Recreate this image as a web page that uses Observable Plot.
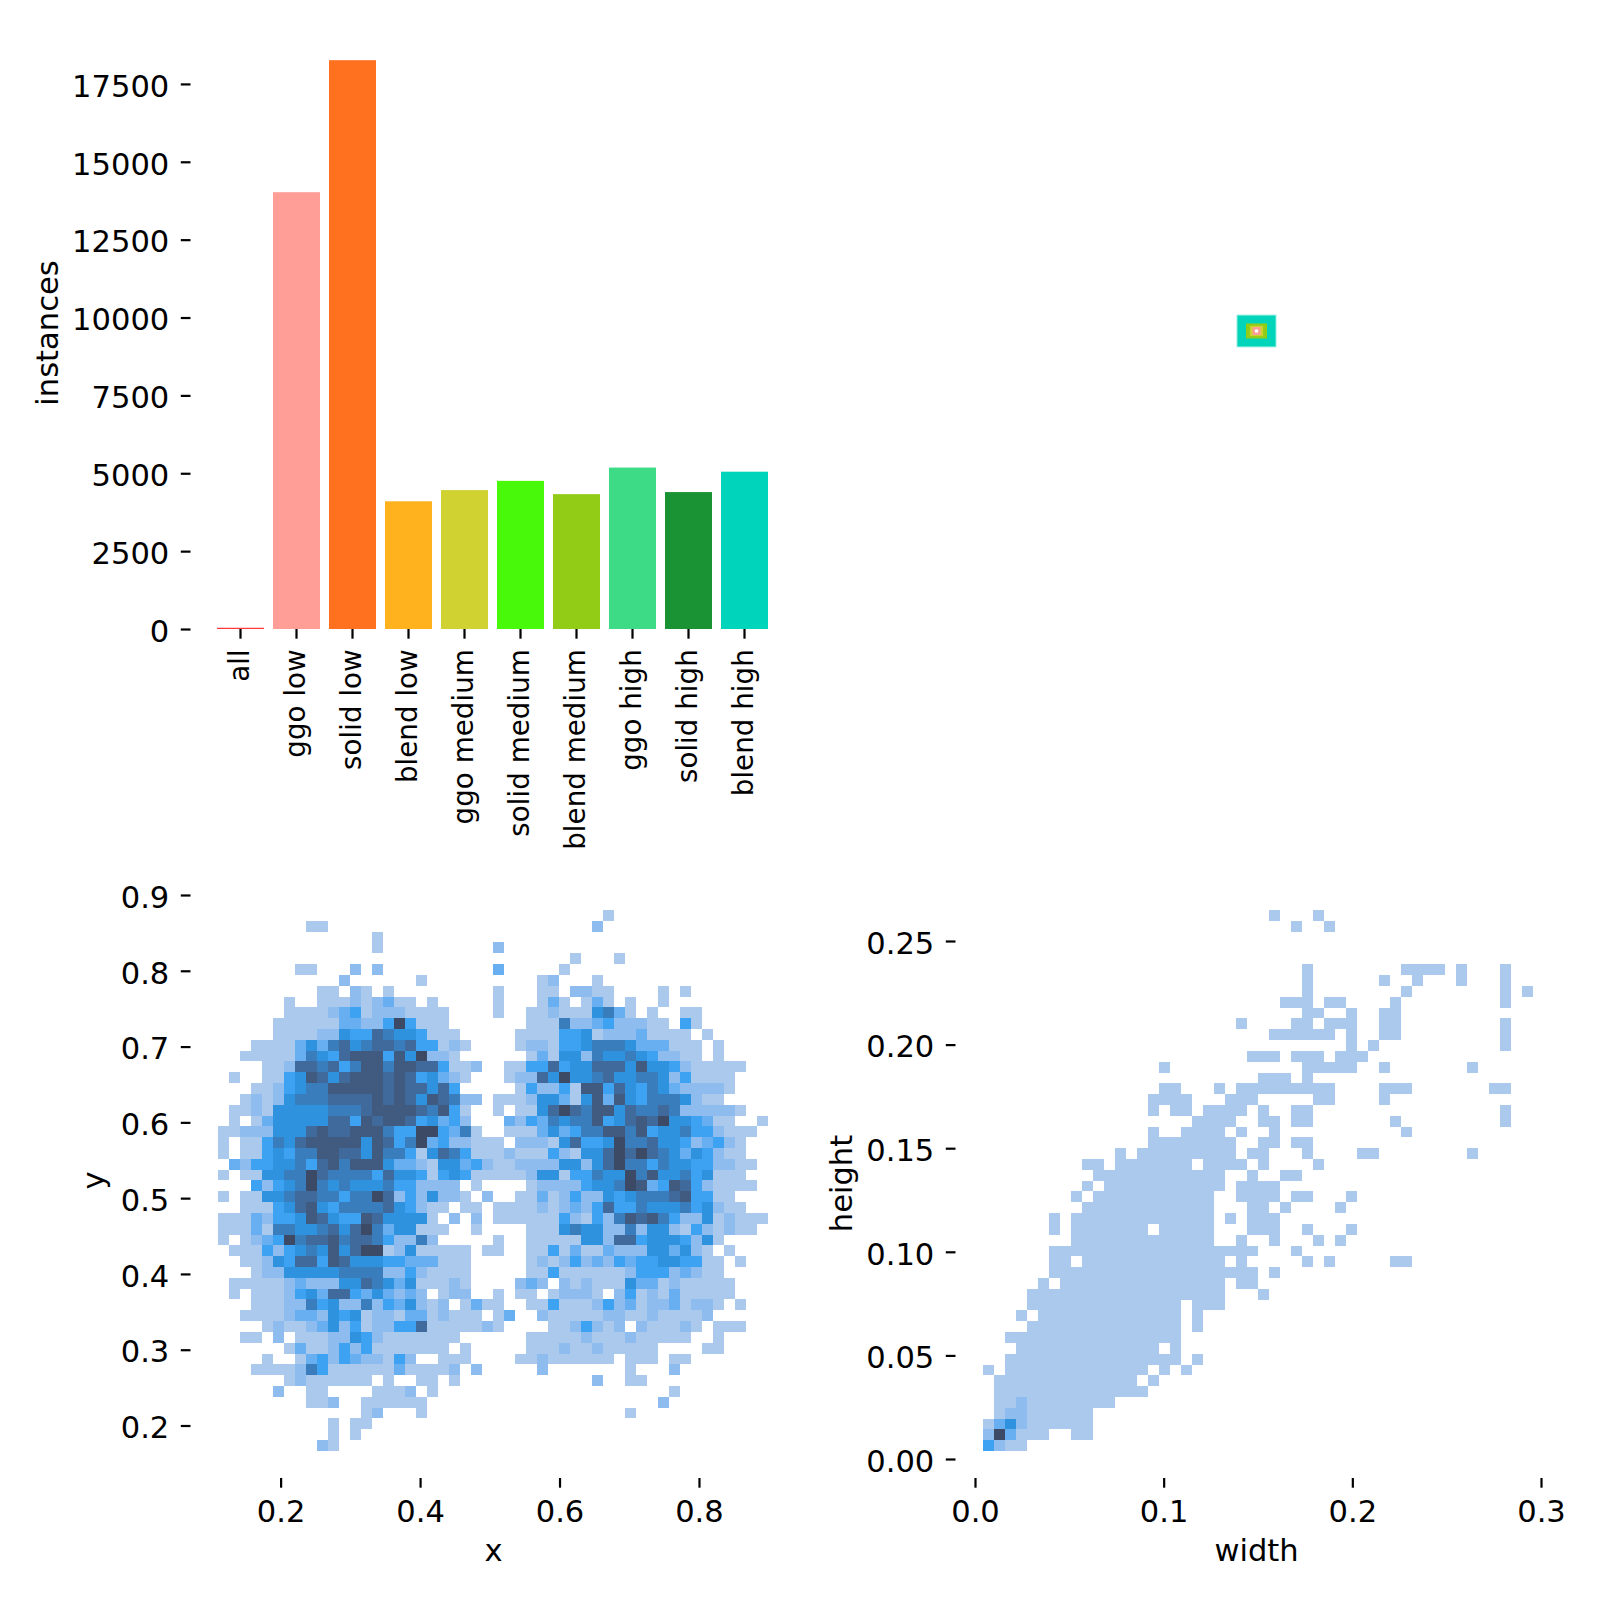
<!DOCTYPE html>
<html>
<head>
<meta charset="utf-8">
<style>
html,body{margin:0;padding:0;background:#fff;width:1600px;height:1600px;overflow:hidden}
#root{position:relative;width:1600px;height:1600px}
#root svg{position:absolute;background:#fff}
</style>
<script src="https://cdn.jsdelivr.net/npm/d3@7"></script>
<script src="https://cdn.jsdelivr.net/npm/@observablehq/plot@0.6"></script>
</head>
<body>
<div id="root"></div>
<script>
// Instances per class
const categories = ["all","ggo low","solid low","blend low","ggo medium","solid medium","blend medium","ggo high","solid high","blend high"];
const instances = [40,14024,18262,4100,4460,4756,4330,5183,4396,5050];
const barColors = ["#FF3838","#FF9D97","#FF701F","#FFB21D","#CFD231","#48F90A","#92CC17","#3DDB86","#1A9334","#00D4BB"];
const instanceTicks = [0,2500,5000,7500,10000,12500,15000,17500];

// Overlaid label boxes (centred in a 2000 x 2000 image)
const boxWidths = [129,66,40,23,7];
const boxHeights = [107,47,31,23,7];
const boxColors = ["#00D4BB","#92CC17","#CFD231","#FF9D97","#FFFFFF"];
const boxEdges = ["#9BEDE3","#92CC17","#CFD231","#FF9D97","#FFFFFF"];

// Histogram density classes, 1 (few) to 9 (many)
const levels = [1,2,3,4,5,6,7,8,9];
const levelColors = ["#abc8ed","#8fbcef","#68aff2","#3ea2f3","#2e92de","#3a7dbd","#416a9c","#405a80","#3c4a66"];

// x / y histogram: one entry per row from the top, "startColumn:classes"
const xyRows = [
"35:1",
"8:11 34:2",
"14:1",
"14:1 25:2",
"32:1 36:1",
"7:11 12:2 14:2 25:3 31:1",
"11:2 18:1 29:12 34:1",
"9:11 12:21 15:1 25:1 29:11 32:22 34:11 40:1 42:1",
"6:1 9:111212311 19:1 25:1 29:131 33:131 37:1 40:1",
"6:111123412221111 25:1 28:1121115631 39:1 42:11",
"5:1111113322494111 28:1116223422211 42:41",
"5:11112254476554111 27:1111445122231111 44:1",
"3:11113536756776744121 27:12214456665333111 45:1",
"2:11111365478884859221 28:1315526556542211 45:1",
"4:11277674688688774112 26:1144745577758554211111",
"1:1 4:1145875788878745321 26:122759556755665241111",
"3:1124566888887877574 27:14224188475465322221",
"2:1212566677778787587622 25:111255315838546665211",
"1:1121555556667888876841 25:1 27:115797688576676222221",
"1:1 3:13555557748788745342 26:324365668457879554311 49:1",
"0:112225557877888644994361 26:11135346688684556442111",
"0:1 2:11465788888587469342211 25:1 27:222157445966755423421",
"0:1 2:11454668877586641576411 25:12111421557979765354211",
"1:324455647868885332155342 25:112222552579664655442211",
"0:1 2:11556697666647554145411 25:11125514465596855645111",
"3:4245696565556442222 23:1 28:122224556983487421111",
"0:1 2:115567766466972425221 24:2 27:11312422545666784411",
"2:1114578546666754211 22:11 25:11112123247446555645211",
"0:11132445875448755551 21:2 23:2 25:1111114214268786422512111",
"0:111316655675796355111 23:1 28:111565522625521421211",
"0:1 2:123496778677642262 25:1 28:111115527745554251",
"1:1114245658579912511111 24:1 25:1 28:11413113222553521 46:1",
"2:112547748755544333111 28:121242324344554411 47:1",
"3:12255555666622421111 28:114111111244423211",
"1:1111123222557653511121 27:232 31:2121115331211111",
"1:1 3:1112453774353232 20:122 25:1 27:11 30:12221 36:24121311111",
"3:111226452262435212 22:131 25:1 28:114111242312231221 47:1",
"2:1111233254512213312111 25:13 29:2111112211211112",
"4:121123524122447111112 25:1 30:1124212 38:211121 45:111",
"2:11 5:2 7:111225421111111 28:111112111211111 45:1",
"6:131124241111111 22:1 28:111211211111 44:11",
"4:1 7:13424322142 20:111 27:112111111 37:111 41:11",
"3:1111264111111311112 23:2 29:2 37:1 41:2",
"6:12111111 15:1 18:11 21:1 34:2 37:11",
"5:2 8:11 14:1112 19:1 41:1",
"8:112 13:111111 40:2",
"13:12 18:1 37:1",
"10:1 12:11",
"10:1 12:1",
"9:21"
];

// width / height histogram: occupied columns per row from the top
const whRows = [
"26 30","28 31","","","",
"29 38-41 43 47",
"29 36 39 43 47",
"29 38 47 49",
"27-29 31-32 37 47",
"29-30 33 36-37",
"23 28-29 31-33 36-37 47",
"26-31 33 36-37 47",
"33 35 47",
"24-26 28-30 32-34",
"16 29-33 36 44",
"25-27 29",
"16-17 21 23-31 36-38 46-47",
"15-18 22-24 30-31 36",
"15 17-18 20-23 25 28-29 47",
"19-22 25-26 28-29 37 47",
"15 18-21 23 26 38",
"15-22 25-26 28-29",
"12 14-22 24-25 29 34-35 44",
"9-10 12-18 20-23 25 30",
"10-21 24 27-28",
"9 11-21 23-26",
"8 10-20 23-26 28-29 33",
"9-20 24-25 27 32",
"6 8-20 22 24-26",
"6 8-14 16-20 24-26 29 33",
"8-20 23 26 30 32",
"6-24 28",
"6-7 9-21 23 29 31 37-38",
"6-24 26",
"5 7-21 23-24",
"4-21 25",
"4-17 19-21",
"3 5-17 19",
"4-17 19",
"2-17",
"3-15 17",
"2-17 19",
"0 2-14 16 18",
"1-13 15",
"1-14",
"1-11",
"1-9",
"0-9",
"0-5 8-9",
"0-3"
];
// Denser cells of that histogram: [row, column, class]
const whDense = [[45,3,2],[46,2,2],[46,3,2],[47,1,3],[47,2,5],[47,3,2],[48,0,2],[48,1,9],[48,2,3],[49,0,4],[49,1,2]];

// Histogram extents
const xyBins = {x0:0.1102, dx:0.015775, y0:0.8802, dy:0.014274};
const whBins = {x0:0.00424, dx:0.00583, y0:0.26483, dy:0.00522};

function xyCells(){
  const out=[];
  xyRows.forEach((row,r)=>{
    row.split(" ").filter(Boolean).forEach(tok=>{
      const [s,digits]=tok.split(":");
      [...digits].forEach((ch,i)=>out.push(cell(xyBins,r,+s+i,+ch)));
    });
  });
  return out;
}
function whCells(){
  const map=new Map();
  whRows.forEach((row,r)=>{
    row.split(" ").filter(Boolean).forEach(tok=>{
      const [a,b]=tok.split("-").map(Number);
      for(let c=a;c<=(b===undefined?a:b);c++) map.set(r+"_"+c,cell(whBins,r,c,1));
    });
  });
  whDense.forEach(([r,c,l])=>map.set(r+"_"+c,cell(whBins,r,c,l)));
  return [...map.values()];
}
function cell(b,r,c,level){
  return {x1:b.x0+c*b.dx,x2:b.x0+(c+1)*b.dx,y1:b.y0-r*b.dy,y2:b.y0-(r+1)*b.dy,level};
}

const font = {fontFamily:"'DejaVu Sans',sans-serif",fontSize:"30.56px",background:"#fff",color:"#000"};
const colorScale = {type:"ordinal",domain:levels,range:levelColors};
const root = document.getElementById("root");
function place(svg,left,top){svg.style.left=left+"px";svg.style.top=top+"px";root.appendChild(svg);}

// Tick rules and tick labels are separate so the labels can sit on the text's visual centre
function yAxis(options,label,labelOffset){
  return [
    Plot.axisY({...options,tickSize:9.7,strokeWidth:2.2,text:null,label:null}),
    Plot.axisY({...options,tickSize:0,tickPadding:21.7,dy:2.5,label:null}),
    Plot.axisY({...options,tickSize:0,text:null,label,labelAnchor:"center",labelArrow:"none",labelOffset})
  ];
}
function xAxis(options,label,labelOffset){
  return [
    Plot.axisX({...options,tickSize:9.7,strokeWidth:2.2,text:null,label:null}),
    Plot.axisX({...options,tickSize:0,tickPadding:19.4,dy:2,label:null}),
    Plot.axisX({...options,tickSize:0,text:null,label,labelAnchor:"center",labelArrow:"none",labelOffset})
  ];
}

// Instances bars
place(Plot.plot({
  width:800,height:860,style:font,
  marginLeft:190.5,marginRight:4.5,marginTop:36,marginBottom:231,
  x:{type:"band",domain:categories,range:[213,773],paddingInner:0.16,paddingOuter:0.08},
  y:{domain:[0,18300],range:[629,59]},
  color:{type:"ordinal",domain:categories,range:barColors},
  marks:[
    Plot.barY(categories.map((c,i)=>({c,v:instances[i]})),{x:"c",y:"v",fill:"c"}),
    yAxis({ticks:instanceTicks,tickFormat:"d"},"instances",155),
    Plot.axisX({tickSize:9.7,strokeWidth:2.2,tickPadding:10,tickRotate:-90,fontSize:27.78,label:null,dx:-0.5})
  ]
}),0,0);

// Overlaid boxes
place(Plot.plot({
  width:800,height:860,style:font,
  margin:0,
  x:{axis:null,domain:[0,2000],range:[154,759]},
  y:{axis:null,domain:[0,2000],range:[629,33]},
  marks:[
    Plot.rect(boxWidths.map((w,i)=>({w,h:boxHeights[i],color:boxColors[i],edge:boxEdges[i]})),{
      x1:d=>1000-d.w/2,x2:d=>1000+d.w/2,y1:d=>1000-d.h/2,y2:d=>1000+d.h/2,
      fill:d=>d.color,stroke:d=>d.edge,strokeWidth:1
    })
  ]
}),800,0);

// x / y histogram
place(Plot.plot({
  width:800,height:740,style:font,
  marginLeft:190.5,marginRight:4.5,marginTop:22,marginBottom:122,
  x:{domain:[0.1,0.9],range:[210.9,768.7]},
  y:{domain:[0.2,0.9],range:[565.5,35]},
  color:colorScale,
  marks:[
    Plot.rect(xyCells(),{x1:"x1",x2:"x2",y1:"y1",y2:"y2",fill:"level",shapeRendering:"crispEdges"}),
    xAxis({ticks:[0.2,0.4,0.6,0.8],tickFormat:".1f"},"x",82),
    yAxis({ticks:[0.2,0.3,0.4,0.5,0.6,0.7,0.8,0.9],tickFormat:".1f"},"y",109)
  ]
}),0,860);

// width / height histogram
place(Plot.plot({
  width:800,height:740,style:font,
  marginLeft:155.5,marginRight:43.5,marginTop:28,marginBottom:122,
  x:{domain:[0,0.3],range:[175,741]},
  y:{domain:[0,0.25],range:[599,81]},
  color:colorScale,
  marks:[
    Plot.rect(whCells(),{x1:"x1",x2:"x2",y1:"y1",y2:"y2",fill:"level",shapeRendering:"crispEdges"}),
    xAxis({ticks:[0,0.1,0.2,0.3],tickFormat:".1f"},"width",82),
    yAxis({ticks:[0,0.05,0.1,0.15,0.2,0.25],tickFormat:".2f"},"height",126)
  ]
}),800,860);
</script>
</body>
</html>
